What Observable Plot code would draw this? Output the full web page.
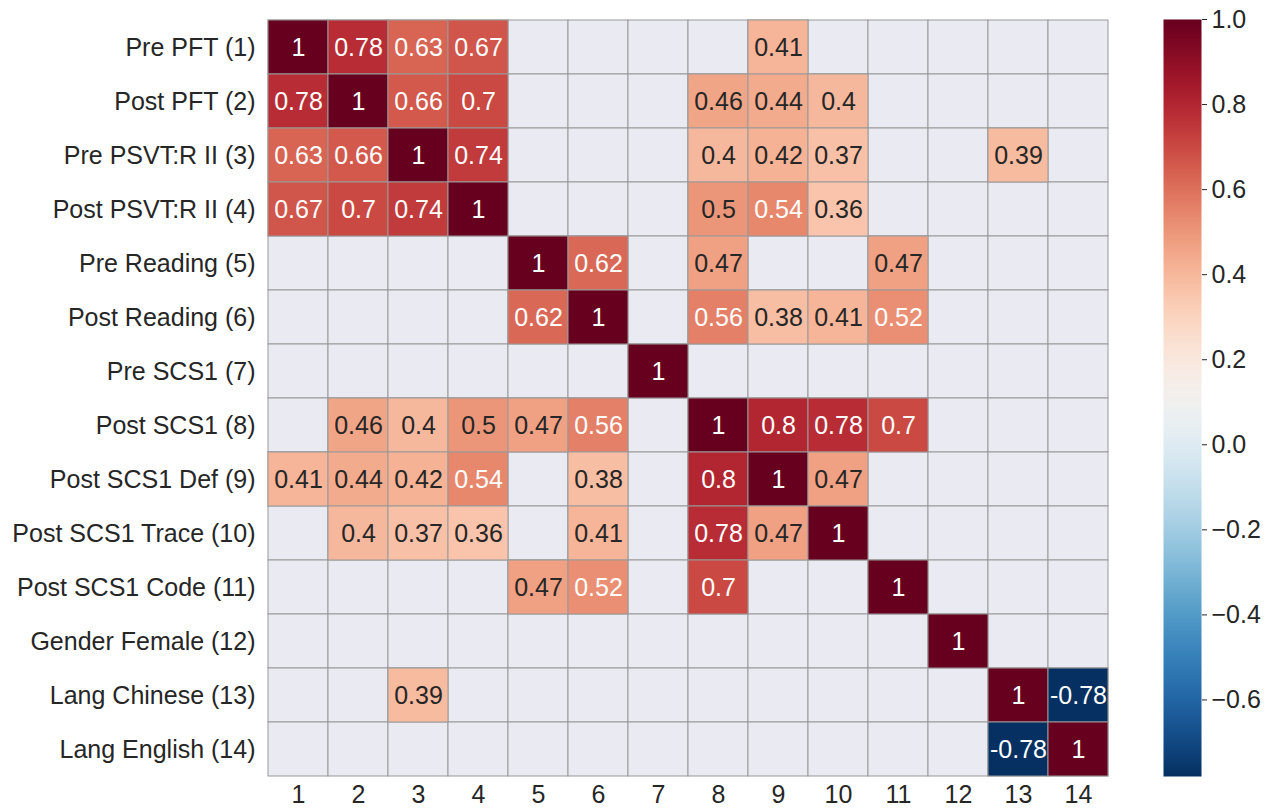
<!DOCTYPE html>
<html><head><meta charset="utf-8">
<script src="https://cdn.jsdelivr.net/npm/d3@7"></script>
<script src="https://cdn.jsdelivr.net/npm/@observablehq/plot@0.6"></script>
<style>
body{margin:0;background:#fff;}
#wrap{position:relative;width:1271px;height:809px;overflow:hidden;}
#wrap svg{position:absolute;top:0;}
</style></head><body><div id="wrap"></div>
<script>
const rowLabels = ["Pre PFT (1)","Post PFT (2)","Pre PSVT:R II (3)","Post PSVT:R II (4)","Pre Reading (5)","Post Reading (6)","Pre SCS1 (7)","Post SCS1 (8)","Post SCS1 Def (9)","Post SCS1 Trace (10)","Post SCS1 Code (11)","Gender Female (12)","Lang Chinese (13)","Lang English (14)"];
const colLabels = ["1","2","3","4","5","6","7","8","9","10","11","12","13","14"];
const _ = null;
const values = [
  [1, .78, .63, .67, _, _, _, _, .41, _, _, _, _, _],
  [.78, 1, .66, .7, _, _, _, .46, .44, .4, _, _, _, _],
  [.63, .66, 1, .74, _, _, _, .4, .42, .37, _, _, .39, _],
  [.67, .7, .74, 1, _, _, _, .5, .54, .36, _, _, _, _],
  [_, _, _, _, 1, .62, _, .47, _, _, .47, _, _, _],
  [_, _, _, _, .62, 1, _, .56, .38, .41, .52, _, _, _],
  [_, _, _, _, _, _, 1, _, _, _, _, _, _, _],
  [_, .46, .4, .5, .47, .56, _, 1, .8, .78, .7, _, _, _],
  [.41, .44, .42, .54, _, .38, _, .8, 1, .47, _, _, _, _],
  [_, .4, .37, .36, _, .41, _, .78, .47, 1, _, _, _, _],
  [_, _, _, _, .47, .52, _, .7, _, _, 1, _, _, _],
  [_, _, _, _, _, _, _, _, _, _, _, 1, _, _],
  [_, _, .39, _, _, _, _, _, _, _, _, _, 1, -.78],
  [_, _, _, _, _, _, _, _, _, _, _, _, -.78, 1]
];
const colorbarTicks = [-0.6, -0.4, -0.2, 0, 0.2, 0.4, 0.6, 0.8, 1.0];
const vmin = -0.78, vmax = 1;

const FONT = "'Liberation Sans', Arial, Helvetica, sans-serif";
const INK = "#262626";
const FS = 25;
const cells = [];
rowLabels.forEach((r, i) => colLabels.forEach((c, j) => cells.push({row: r, col: c, v: values[i][j]})));
const filled = cells.filter(d => d.v != null);

function isLight(v) {
  const t = (v - vmin) / (vmax - vmin);
  const c = d3.rgb(d3.interpolateRdBu(1 - t));
  const lin = x => { x /= 255; return x <= 0.03928 ? x / 12.92 : Math.pow((x + 0.055) / 1.055, 2.4); };
  const L = 0.2126 * lin(c.r) + 0.7152 * lin(c.g) + 0.0722 * lin(c.b);
  return L > 0.408;
}
const darkText = filled.filter(d => isLight(d.v));
const whiteText = filled.filter(d => !isLight(d.v));
const colorOpts = {type: "linear", domain: [vmin, vmax], scheme: "RdBu", reverse: true};

const main = Plot.plot({
  width: 1271, height: 809,
  marginLeft: 265, marginRight: 161, marginTop: 19, marginBottom: 33,
  style: {fontFamily: FONT, fontSize: FS + "px", color: INK, background: "transparent", overflow: "visible"},
  x: {domain: colLabels, padding: 0, label: null, tickSize: 0, tickPadding: 9},
  y: {domain: rowLabels, padding: 0, label: null, tickSize: 0, tickPadding: 10},
  color: colorOpts,
  marks: [
    Plot.cell(cells, {x: "col", y: "row", fill: "#eaeaf2", stroke: "#999", strokeWidth: 1, inset: 0}),
    Plot.cell(filled, {x: "col", y: "row", fill: "v", stroke: "#999", strokeWidth: 1, inset: 0}),
    Plot.text(darkText, {x: "col", y: "row", text: d => String(d.v), fill: INK, fontSize: FS}),
    Plot.text(whiteText, {x: "col", y: "row", text: d => String(d.v), fill: "#fff", fontSize: FS})
  ]
});
main.style.left = "0px";

const cbar = Plot.plot({
  width: 108, height: 809,
  marginLeft: 0, marginRight: 70, marginTop: 19, marginBottom: 33,
  style: {fontFamily: FONT, fontSize: FS + "px", color: INK, background: "transparent", overflow: "visible"},
  x: {domain: [0, 1], axis: null},
  y: {domain: [vmin, vmax], axis: null},
  color: colorOpts,
  marks: [
    Plot.raster({x1: 0, x2: 1, y1: vmin, y2: vmax, width: 1, height: 757, fill: (x, y) => y, imageRendering: "auto"}),
    Plot.axisY(colorbarTicks, {anchor: "right", tickFormat: d3.format(".1f"), tickSize: 5, tickPadding: 5, label: null, stroke: INK, fontSize: FS})
  ]
});
cbar.style.left = "1163px";

const wrap = document.getElementById("wrap");
wrap.appendChild(main);
wrap.appendChild(cbar);
</script>
</body></html>
